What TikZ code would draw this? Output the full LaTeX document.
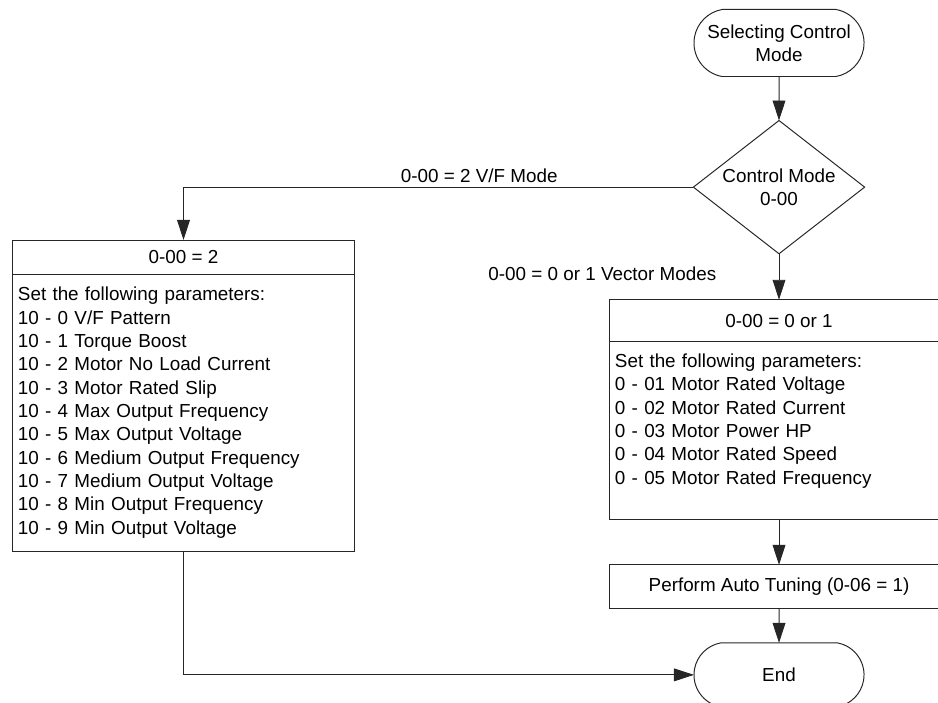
\documentclass[tikz,border=0pt]{standalone}
\usepackage{fontspec}
\setmainfont{Liberation Sans}
\usetikzlibrary{positioning, arrows.meta, shapes.geometric, shapes.misc}

\begin{document}
\begin{tikzpicture}[x=0.025cm, y=-0.025cm, >={Triangle[length=0.5cm, width=0.32cm]},
    line width=0.7pt, draw=black!85,
    font=\fontsize{13.4pt}{16.6pt}\selectfont,
    terminal/.style={draw, rounded rectangle, rounded rectangle arc length=160, minimum width=4.25cm, minimum height=1.675cm, inner sep=0pt, outer sep=0pt, align=center},
    decision/.style={draw, diamond, aspect=1.29, minimum width=4.28cm, minimum height=3.33cm, inner sep=0pt, outer sep=0pt, align=center},
    header/.style={draw, rectangle, outer sep=0pt, inner sep=2pt},
    params/.style={draw, rectangle, outer sep=0pt, inner xsep=0.125cm, inner ysep=2pt, align=left},
    lbl/.style={inner sep=3pt}]

\useasboundingbox (0,0) rectangle (938,702);
\clip (0,0) rectangle (938,702);

% start and mode decision
\node[terminal] (start) at (779,43) {Selecting Control\\Mode};
\node[decision, below=1.1cm of start] (mode) {Control Mode\\0-00};

% vector modes branch
\node[header, minimum width=8.45cm, minimum height=1.05cm, below=1.15cm of mode] (hdrR) {0-00 = 0 or 1};
\node[params, text width=8.2cm, minimum height=4.45cm, below=0pt of hdrR] (parR) {Set the following parameters:\\
    0 - 01 Motor Rated Voltage\\
    0 - 02 Motor Rated Current\\
    0 - 03 Motor Power HP\\
    0 - 04 Motor Rated Speed\\
    0 - 05 Motor Rated Frequency\\
    \mbox{}};
\node[header, minimum width=8.45cm, minimum height=1.1cm, below=1.125cm of parR] (tune) {Perform Auto Tuning (0-06 = 1)};
\node[terminal, minimum height=1.6cm, below=0.85cm of tune] (finish) {End};

% V/F branch
\node[header, minimum width=8.525cm, minimum height=0.85cm] (hdrL) at (183.5,257) {0-00 = 2};
\node[params, text width=8.275cm, minimum height=6.925cm, below=0pt of hdrL] (parL) {Set the following parameters:\\
    10 - 0 V/F Pattern\\
    10 - 1 Torque Boost\\
    10 - 2 Motor No Load Current\\
    10 - 3 Motor Rated Slip\\
    10 - 4 Max Output Frequency\\
    10 - 5 Max Output Voltage\\
    10 - 6 Medium Output Frequency\\
    10 - 7 Medium Output Voltage\\
    10 - 8 Min Output Frequency\\
    10 - 9 Min Output Voltage};

% connectors
\draw[->] (start) -- (mode);
\draw[->] (mode.west) -| node[lbl, pos=0.21, above] {0-00 = 2 V/F Mode} (hdrL.north);
\draw[->] (mode.south) -- node[lbl, pos=0.43, left=1.45cm] {0-00 = 0 or 1 Vector Modes} (hdrR.north);
\draw[->] (parR) -- (tune);
\draw[->] (tune) -- (finish);
\draw[->] (parL.south) |- (finish.west);

\end{tikzpicture}
\end{document}
